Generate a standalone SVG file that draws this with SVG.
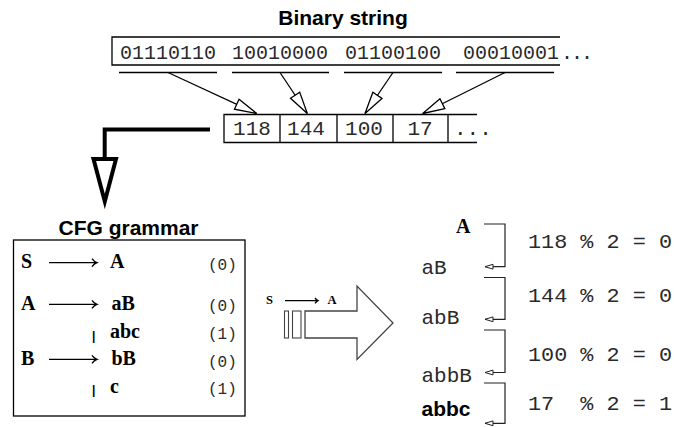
<svg xmlns="http://www.w3.org/2000/svg" width="674" height="427" viewBox="0 0 674 427">
<defs>
<style>
.title{font-family:"Liberation Sans",Arial,sans-serif;font-weight:bold;font-size:21px;fill:#000}
.mono{font-family:"Liberation Mono","Courier New",monospace;fill:#2a2a2a}
.serif{font-family:"Liberation Serif","Times New Roman",serif;font-weight:bold;fill:#000}
.bar{font-family:"Liberation Sans",Arial,sans-serif;font-weight:bold;font-size:12px;fill:#000}
.ln{stroke:#000;stroke-width:1.3;fill:none}
.br{stroke:#222;stroke-width:1.2;fill:none}
</style>
<marker id="openHead" markerUnits="userSpaceOnUse" markerWidth="26" markerHeight="16" refX="23" refY="7" orient="auto" viewBox="0 0 26 16">
<path d="M1,1.5 L23,7 L1,12.5 Z" fill="#fff" stroke="#000" stroke-width="1.3"/>
</marker>
<marker id="smallHead" markerUnits="userSpaceOnUse" markerWidth="12" markerHeight="8" refX="9" refY="4" orient="auto" viewBox="0 0 12 8">
<path d="M1,1.6 L9,4 L1,6.4 Z" fill="#fff" stroke="#222" stroke-width="1"/>
</marker>
</defs>
<rect width="674" height="427" fill="#fff"/>

<g id="binary-string">
<text class="title" x="343" y="25" text-anchor="middle">Binary string</text>
<path class="ln" d="M560,37 H112 V65 H560"/>
<text class="mono" font-size="20" x="120" y="59">01110110</text>
<text class="mono" font-size="20" x="232" y="59">10010000</text>
<text class="mono" font-size="20" x="345" y="59">01100100</text>
<text class="mono" font-size="20" x="463" y="59">00010001</text>
<text class="mono" font-size="20" x="561" y="59" letter-spacing="-2">...</text>
<path class="ln" d="M119,72.5 H217 M232,72.5 H329 M344,72.5 H442 M456,72.5 H554"/>
</g>

<g id="number-cells">
<path class="ln" d="M477,114.5 H224 V142.5 H477 M280,114.5 V142.5 M337,114.5 V142.5 M393,114.5 V142.5 M448,114.5 V142.5"/>
<text class="mono" font-size="21" x="252" y="135" text-anchor="middle">118</text>
<text class="mono" font-size="21" x="306" y="135" text-anchor="middle">144</text>
<text class="mono" font-size="21" x="364" y="135" text-anchor="middle">100</text>
<text class="mono" font-size="21" x="420" y="135" text-anchor="middle">17</text>
<text class="mono" font-size="21" x="454" y="135">...</text>
</g>

<g id="cfg-grammar">
<text class="title" x="128.5" y="235" text-anchor="middle">CFG grammar</text>
<rect x="13.5" y="240" width="231.5" height="176" fill="none" stroke="#000" stroke-width="1.3"/>
<text class="serif" font-size="20" x="21" y="268">S</text>
<text class="serif" font-size="20" x="110" y="268">A</text>
<text class="mono" font-size="16" x="208" y="270">(0)</text>
<text class="serif" font-size="20" x="21" y="310">A</text>
<text class="serif" font-size="20" x="111.5" y="310">aB</text>
<text class="mono" font-size="16" x="208" y="310.5">(0)</text>
<text class="bar" x="92" y="339.5">|</text>
<text class="serif" font-size="20" x="110" y="338">abc</text>
<text class="mono" font-size="16" x="208" y="339">(1)</text>
<text class="serif" font-size="20" x="21" y="365">B</text>
<text class="serif" font-size="20" x="111.5" y="365">bB</text>
<text class="mono" font-size="16" x="208" y="366.5">(0)</text>
<text class="bar" x="92" y="394">|</text>
<text class="serif" font-size="20" x="110" y="392.5">c</text>
<text class="mono" font-size="16" x="208" y="394">(1)</text>
<path class="ln" stroke-width="1.1" d="M49,262.7 H97 M92,258.7 Q94,261.7 97,262.7 Q94,263.7 92,266.7"/>
<path class="ln" stroke-width="1.1" d="M49,304.3 H97 M92,300.3 Q94,303.3 97,304.3 Q94,305.3 92,308.3"/>
<path class="ln" stroke-width="1.1" d="M49,359.3 H97 M92,355.3 Q94,358.3 97,359.3 Q94,360.3 92,363.3"/>
</g>

<g id="apply-arrow">
<text class="serif" font-size="12.5" x="266" y="303.5">S</text>
<text class="serif" font-size="12.5" x="327.5" y="303.5">A</text>
<path class="ln" stroke-width="0.9" d="M285,300.7 H318 M315,298 Q316.5,300 318,300.7 Q316.5,301.4 315,303.4"/>
<rect x="284.5" y="311" width="4" height="27" fill="none" stroke="#444" stroke-width="1.1"/>
<rect x="292.5" y="311" width="8.5" height="27" fill="none" stroke="#444" stroke-width="1.1"/>
<polygon points="305,311 357,311 357,286 393,323 357,359.5 357,338 305,338" fill="#fff" stroke="#444" stroke-width="1.3"/>
</g>

<g id="derivation">
<text class="serif" font-size="20" x="456" y="233">A</text>
<text class="mono" font-size="21" x="421.5" y="274">aB</text>
<text class="mono" font-size="21" x="421.5" y="323.5">abB</text>
<text class="mono" font-size="21" x="421.5" y="381.5">abbB</text>
<text class="title" x="421.5" y="416">abbc</text>
<text class="mono" font-size="21" x="528" y="247.5" textLength="144" lengthAdjust="spacingAndGlyphs">118 % 2 = 0</text>
<text class="mono" font-size="21" x="528" y="301.5" textLength="144" lengthAdjust="spacingAndGlyphs">144 % 2 = 0</text>
<text class="mono" font-size="21" x="528" y="360.5" textLength="144" lengthAdjust="spacingAndGlyphs">100 % 2 = 0</text>
<text class="mono" font-size="21" x="528" y="409.5" textLength="144" lengthAdjust="spacingAndGlyphs" xml:space="preserve">17  % 2 = 1</text>
</g>

<g id="connectors">
<line class="ln" x1="168" y1="72.5" x2="256.7" y2="113.5" marker-end="url(#openHead)"/>
<line class="ln" x1="280" y1="72.5" x2="307.3" y2="113.5" marker-end="url(#openHead)"/>
<line class="ln" x1="393" y1="72.5" x2="365" y2="113.5" marker-end="url(#openHead)"/>
<line class="ln" x1="505" y1="72.5" x2="422.7" y2="113.5" marker-end="url(#openHead)"/>
<path d="M210,129.5 H104.7 V159" fill="none" stroke="#000" stroke-width="4"/>
<polygon points="93.5,159 116,159 104.8,201.5" fill="#fff" stroke="#000" stroke-width="4"/>
<path class="br" d="M484,224 H505 V266.7 H485" marker-end="url(#smallHead)"/>
<path class="br" d="M484,277.5 H505 V319.3 H485" marker-end="url(#smallHead)"/>
<path class="br" d="M484,330 H505 V372.5 H485" marker-end="url(#smallHead)"/>
<path class="br" d="M484,383 H505 V423.3 H485" marker-end="url(#smallHead)"/>
</g>
</svg>
